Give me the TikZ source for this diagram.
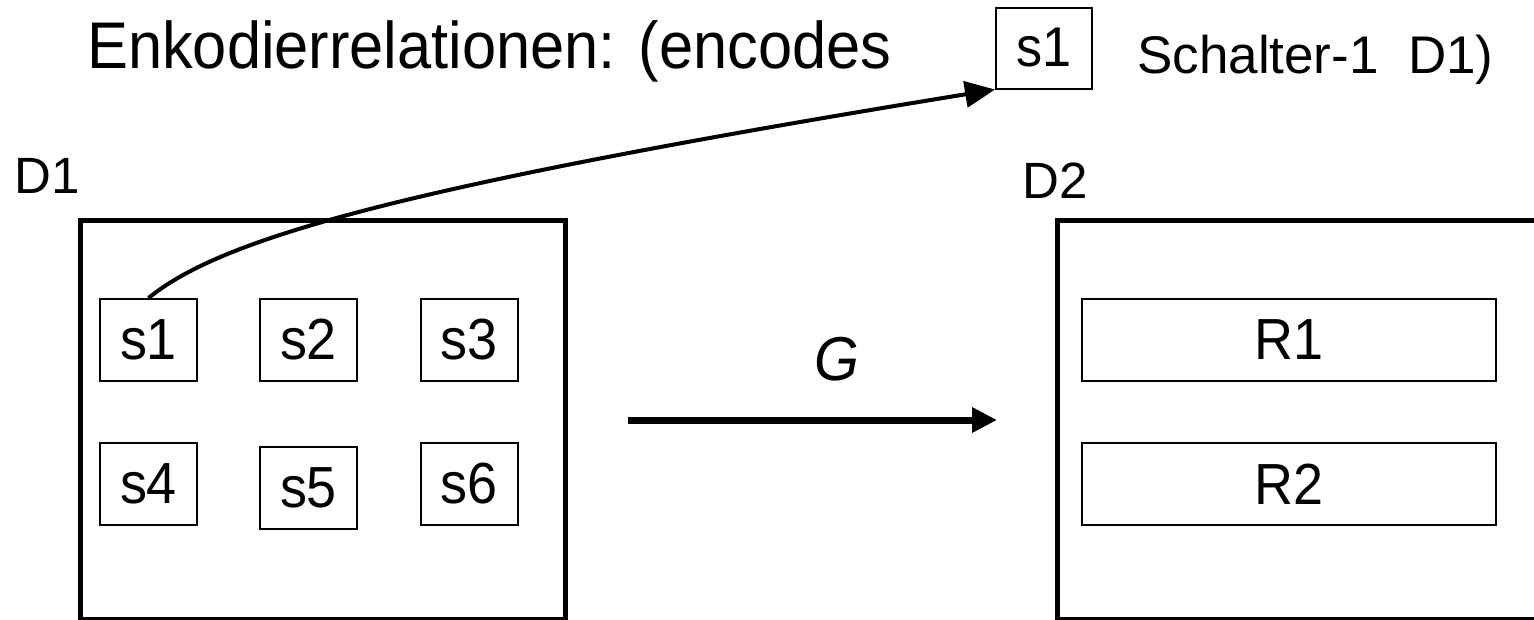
\documentclass[tikz,border=0pt]{standalone}
\usepackage{fontspec}
\usepackage{graphicx}
\setmainfont{Liberation Sans}
\usetikzlibrary{arrows.meta}
\newcommand{\narrowtext}[1]{\scalebox{0.93}[1]{#1}}
\tikzset{
  bigbox/.style={draw, line width=5pt, inner sep=0pt},
  smallbox/.style={draw, line width=2pt, inner sep=0pt, minimum width=97pt, minimum height=82pt, font=\fontsize{58}{62}\selectfont},
  rbox/.style={draw, line width=2pt, inner sep=0pt, minimum width=414pt, minimum height=82pt, font=\fontsize{58}{62}\selectfont},
  lbl/.style={inner sep=0pt, font=\fontsize{51}{56}\selectfont},
  conn/.style={line width=4pt, -{Triangle[length=30pt,width=26pt]}},
  maparrow/.style={line width=7pt, -{Triangle[length=25pt,width=24pt]}}
}
\begin{document}
\begin{tikzpicture}[x=1pt,y=-1pt]
\useasboundingbox (0,0) rectangle (1534,619);
\clip (0,0) rectangle (1534,619);
% title line
\node[anchor=base west, inner sep=0pt, font=\fontsize{66}{72}\selectfont] (title) at (87,68) {\narrowtext{Enkodierrelationen: (encodes}};
\node[draw, line width=2pt, inner sep=0pt, minimum width=96pt, minimum height=81pt, font=\fontsize{56}{60}\selectfont] (ts1) at (1044,48) {\narrowtext{s1}};
\node[anchor=base west, inner sep=0pt, font=\fontsize{53}{58}\selectfont] (schalter) at (1137,73) {Schalter-1\ \ D1)};
% domain labels
\node[lbl, anchor=base west] (d1lbl) at (14,193) {D1};
\node[lbl, anchor=base west] (d2lbl) at (1022,198) {D2};
% big boxes
\node[bigbox, minimum width=485pt, minimum height=399pt] (D1box) at (322.5,419.5) {};
\node[bigbox, minimum width=483pt, minimum height=399pt] (D2box) at (1298.5,419.5) {};
% small boxes
\node[smallbox] (s1) at (148.5,340) {\narrowtext{s1}};
\node[smallbox] (s2) at (308.5,340) {\narrowtext{s2}};
\node[smallbox] (s3) at (469,340) {\narrowtext{s3}};
\node[smallbox] (s4) at (148.5,484) {\narrowtext{s4}};
\node[smallbox] (s5) at (308.5,488) {\narrowtext{s5}};
\node[smallbox] (s6) at (469,484) {\narrowtext{s6}};
% relation boxes
\node[rbox] (R1) at (1289,340) {\narrowtext{R1}};
\node[rbox] (R2) at (1289,484) {\narrowtext{R2}};
% mapping arrow
\coordinate (gstart) at (628,420);
\coordinate (gend) at (997,420);
\draw[maparrow] (gstart) -- (gend);
\node[inner sep=0pt, font=\itshape\fontsize{62}{66}\selectfont] (G) at (837,359) {\narrowtext{G}};
% encoding connector
\draw[conn] (s1.north) .. controls (220,240) and (390,188) .. (ts1.south west);
\end{tikzpicture}
\end{document}
